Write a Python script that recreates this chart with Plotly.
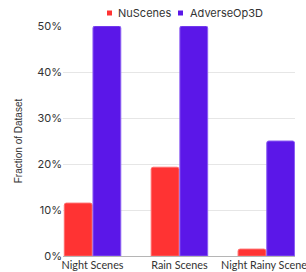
import plotly.graph_objects as go

categories = ["Night Scenes", "Rain Scenes", "Night Rainy Scenes"]
nuscenes = [11.5, 19.3, 1.5]
adverse = [50, 50, 25]
series_names = ["NuScenes", "AdverseOp3D"]
series_colors = ["#FF3333", "#5B17E8"]
border_colors = ["#FF6B6B", "#8A5CF2"]

fig = go.Figure()
for name, vals, col, bcol in zip(series_names, [nuscenes, adverse], series_colors, border_colors):
    fig.add_bar(x=categories, y=vals, name=name, showlegend=False, hoverinfo="skip",
                marker=dict(color=col, line=dict(color=bcol, width=1)))

# compact legend (small squares close to labels)
legend_pos = [(0.2004, 0.228), (0.5065, 0.5388)]
for (sx, tx), name, col in zip(legend_pos, series_names, series_colors):
    fig.add_shape(type="rect", xref="paper", yref="paper", xsizemode="pixel", ysizemode="pixel",
                  xanchor=sx, yanchor=1.0565, x0=-2.5, x1=2.5, y0=-2.5, y1=2.5,
                  fillcolor=col, line=dict(width=0))
    fig.add_annotation(text=name, xref="paper", yref="paper", x=tx, y=1.0565,
                       xanchor="left", yanchor="middle", showarrow=False,
                       font=dict(family="Inter", size=11, color="#333333"))

fig.update_layout(
    width=306, height=272,
    margin=dict(l=63, r=11, t=26, b=16, autoexpand=False),
    paper_bgcolor="white", plot_bgcolor="white",
    barmode="group", bargap=0.34, bargroupgap=0.03, barcornerradius=2,
    font=dict(family="Inter", size=11, color="#333333"),
    showlegend=False,
)
fig.update_xaxes(range=[-0.34, 2.33], showgrid=False, ticks="", automargin=False,
                 ticklabelstandoff=1,
                 tickfont=dict(family="Lato", size=10.8, color="#333333"),
                 showline=False)
fig.update_yaxes(range=[0, 50], dtick=10, ticksuffix="%", showgrid=True,
                 gridcolor="#E6E6E6", gridwidth=1, zeroline=True, zerolinecolor="#B5B5B5",
                 zerolinewidth=1, automargin=False, ticks="", ticklen=6,
                 tickfont=dict(family="Inter", size=11, color="#333333"),
                 title=dict(text="Fraction of Dataset", standoff=12,
                            font=dict(family="Liberation Sans", size=10, color="#333333")))

fig.write_html("out.html", config={"displayModeBar": False},
               post_script="document.body.style.margin='0';document.body.style.overflow='hidden';")
